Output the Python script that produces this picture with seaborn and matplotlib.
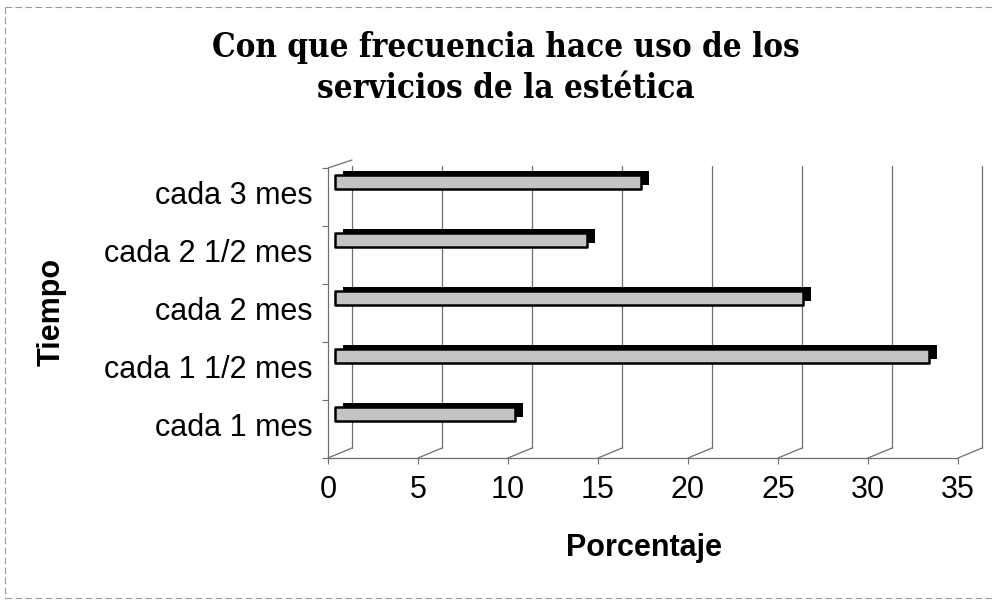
import numpy as np
import pandas as pd
import matplotlib
matplotlib.use("Agg")
import matplotlib.pyplot as plt
import seaborn as sns
from matplotlib import patheffects as pe
from matplotlib.transforms import ScaledTranslation
from matplotlib.lines import Line2D

# ---------------- data ----------------
categories = ["cada 3 mes", "cada 2 1/2 mes", "cada 2 mes", "cada 1 1/2 mes", "cada 1 mes"]
percentages = [17, 14, 26, 33, 10]
x_ticks = [0, 5, 10, 15, 20, 25, 30, 35]
title_lines = ["Con que frecuencia hace uso de los", "servicios de la estética"]
x_label = "Porcentaje"
y_label = "Tiempo"

# ---------------- style ----------------
sns.set_theme(style="white")
plt.rcParams['font.family'] = ['Liberation Sans', 'DejaVu Sans']
plt.rcParams.update({"text.color": "black", "axes.labelcolor": "black",
                     "xtick.color": "black", "ytick.color": "black"})

W, H = 992, 608
DPI = 100
fig = plt.figure(figsize=(W / DPI, H / DPI), dpi=DPI)
fig.patch.set_facecolor("white")

# front plane of the pseudo-3D plot area (pixels)
x0_px, x1_px = 328, 958
top_px, bot_px = 168, 458
ax = fig.add_axes([x0_px / W, 1 - bot_px / H, (x1_px - x0_px) / W, (bot_px - top_px) / H])
ax.set_facecolor("none")

df = pd.DataFrame({"Tiempo": categories, "Porcentaje": percentages})
sns.barplot(data=df, x="Porcentaje", y="Tiempo", order=categories, orient="h",
            width=0.24, color="#c4c4c4", saturation=1, edgecolor="black",
            linewidth=1.8, ax=ax, zorder=3)

ax.set_xlim(x_ticks[0], x_ticks[-1])
cat_px = 58.0           # pixels per category
first_bar_px = 182.0    # bar centre of first category
ax.set_ylim((bot_px - first_bar_px) / cat_px, (top_px - first_bar_px) / cat_px)

# depth of the 3D floor / back wall
depth_dx_px, depth_dy_px = 24, 10
dx_data = depth_dx_px * (x_ticks[-1] - x_ticks[0]) / (x1_px - x0_px)
dy_axes = depth_dy_px / (bot_px - top_px)

# bars: shift into middle depth and add dark 3D caps (top/right faces)
bar_shift = ScaledTranslation(7 / DPI, 0, fig.dpi_scale_trans)
for p in ax.patches:
    p.set_transform(ax.transData + bar_shift)
    p.set_joinstyle("round")
    p.set_path_effects([pe.SimplePatchShadow(offset=(6, 3), shadow_rgbFace="black", alpha=1.0),
                        pe.Normal()])

# back-wall gridlines + floor diagonals
xt = ax.get_xaxis_transform()
grid_kw = dict(color="#6f6f6f", lw=0.9, transform=xt, clip_on=False, zorder=1)
for v in x_ticks:
    ax.add_line(Line2D([v + dx_data, v + dx_data], [dy_axes, 1.0 + dy_axes * 0.2], **grid_kw))
    ax.add_line(Line2D([v, v + dx_data], [0, dy_axes], **grid_kw))
# front floor edge
ax.add_line(Line2D([x_ticks[0], x_ticks[-1]], [0, 0], **grid_kw))
# left wall front edge and top diagonal
ax.add_line(Line2D([x_ticks[0], x_ticks[0]], [0, 1], **grid_kw))
ax.add_line(Line2D([x_ticks[0], x_ticks[0] + dx_data], [1, 1.0 + dy_axes * 0.8], **grid_kw))

for s in ax.spines.values():
    s.set_visible(False)

# ticks
ax.set_xticks(x_ticks)
ax.set_xticklabels([str(v) for v in x_ticks])
ax.tick_params(axis="x", length=4, width=0.8, color="#6f6f6f", pad=8, labelsize=22, bottom=True)
ax.tick_params(axis="y", length=0, pad=11, labelsize=22)
label_shift = ScaledTranslation(0, -11 / DPI, fig.dpi_scale_trans)
for lab in ax.get_yticklabels():
    lab.set_transform(lab.get_transform() + label_shift)
# small boundary ticks on the left wall (front-plane category boundaries)
ax.set_yticks(np.arange(len(categories) + 1) + (top_px - first_bar_px) / cat_px, minor=True)
ax.tick_params(axis="y", which="minor", length=4, width=0.8, color="#6f6f6f", left=True)

ax.set_xlabel("")
ax.set_ylabel("")

# axis titles
fig.text(644 / W, 1 - 548 / H, x_label, ha="center", va="center",
         fontsize=22, fontweight="bold")
fig.text(52 / W, 1 - 312 / H, y_label, ha="center", va="center",
         fontsize=22, fontweight="bold", rotation=90)

# title (serif bold, condensed), sized to match reference width
tkw = dict(ha="center", va="center", fontsize=20, fontweight="bold",
           family="DejaVu Serif", fontstretch="condensed")
t1 = fig.text(506 / W, 1 - 47 / H, title_lines[0], **tkw)
t2 = fig.text(506 / W, 1 - 88 / H, title_lines[1], **tkw)
fig.canvas.draw()
r = fig.canvas.get_renderer()
w1 = t1.get_window_extent(r).width
fs = 20 * 588 / w1
t1.set_fontsize(fs)
t2.set_fontsize(fs)

# faint scanned frame
frame_kw = dict(color="#9a9a9a", lw=0.8, ls=(0, (6, 3)), transform=fig.transFigure)
fig.add_artist(Line2D([5 / W, 1.0], [1 - 7 / H, 1 - 7 / H], **frame_kw))
fig.add_artist(Line2D([5 / W, 5 / W], [1 - 7 / H, 1 - 598 / H], **frame_kw))
fig.add_artist(Line2D([5 / W, 1.0], [1 - 598 / H, 1 - 598 / H], **frame_kw))

fig.savefig("out.png", dpi=DPI)
